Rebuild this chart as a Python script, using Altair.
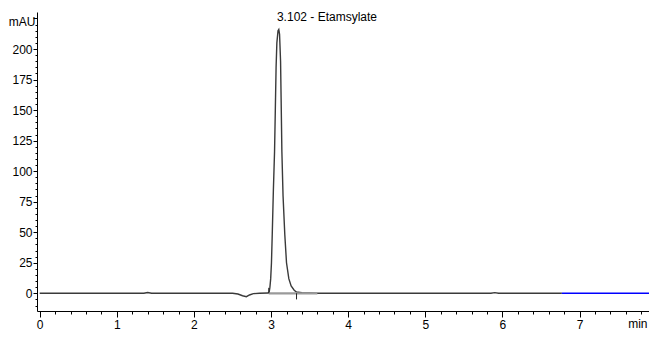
import altair as alt
import pandas as pd

# Chromatogram trace (time in min, signal in mAU)
trace_time = [0.0, 1.35, 1.40, 1.45, 2.50, 2.57, 2.63, 2.68, 2.72, 2.77, 2.85, 2.96,
              2.975, 2.985, 2.995, 3.005, 3.015, 3.03, 3.045, 3.055, 3.065, 3.075,
              3.09, 3.10, 3.11, 3.123, 3.13, 3.14, 3.155, 3.178, 3.20, 3.23, 3.26,
              3.30, 3.33, 3.40, 3.60, 5.85, 5.90, 5.95, 6.77]
trace_value = [0.0, 0.0, 0.6, 0.0, 0.0, -0.6, -2.0, -2.8, -1.4, -0.3, 0.0, 0.2,
               0.8, 5.0, 12.0, 25.0, 48.0, 85.0, 116.0, 150.0, 185.0, 205.0,
               215.0, 216.0, 212.0, 190.0, 160.0, 116.0, 80.0, 48.0, 25.0, 12.0, 6.0,
               2.5, 1.0, 0.4, 0.0, 0.0, 0.5, 0.0, 0.0]

# Blue tail segment (end of run)
tail_time = [6.77, 7.90]
tail_value = [0.0, 0.0]

# Integration baseline (grey) and its start / end markers
base_time = [2.97, 3.60]
base_value = [0.0, 0.0]
marker_time = [2.97, 3.33]
marker_lo = [0.0, -5.0]
marker_hi = [4.5, 0.0]

# Peak annotation
peak_time = [3.102]
peak_value = [216.0]
peak_label = ["3.102 - Etamsylate"]

x_ticks = [round(i * 0.2, 1) for i in range(0, 40)]
y_ticks = list(range(-10, 230, 5))

FONT = "Liberation Sans, Arial"

trace_df = pd.DataFrame({"t": trace_time, "v": trace_value})
tail_df = pd.DataFrame({"t": tail_time, "v": tail_value})
base_df = pd.DataFrame({"t": base_time, "v": base_value})
marker_df = pd.DataFrame({"t": marker_time, "lo": marker_lo, "hi": marker_hi})
peak_df = pd.DataFrame({"t": peak_time, "v": peak_value, "label": peak_label})

x_scale = alt.Scale(domain=[-0.035, 7.90], nice=False, zero=False)
y_scale = alt.Scale(domain=[-14.5, 230.3], nice=False, zero=False)

x_axis = alt.Axis(
    values=x_ticks,
    labelExpr="(abs(datum.value - round(datum.value)) < 0.001) ? format(datum.value, 'd') : ''",
    tickSize={"expr": "(abs(datum.value - round(datum.value)) < 0.001) ? 6 : 3"},
    labelOverlap=False,
    labelBound=False,
    labelFlush=False,
    grid=False,
    domainColor="#000000",
    tickColor="#000000",
    labelColor="#000000",
    labelFont=FONT,
    labelFontSize=12,
    labelPadding=2,
    title="min",
    titleFont=FONT,
    titleFontSize=12,
    titleFontWeight="normal",
    titleColor="#000000",
    titleAnchor="end",
    titleAlign="right",
    titleBaseline="alphabetic",
    titleX=610,
    titleY=16,
)

y_axis = alt.Axis(
    values=y_ticks,
    labelExpr="(datum.value % 25 === 0 && datum.value >= 0 && datum.value <= 200) ? format(datum.value, 'd') : ''",
    tickSize={"expr": "(datum.value % 25 === 0) ? 4 : 2"},
    labelOverlap=False,
    labelBound=False,
    labelFlush=False,
    grid=False,
    domainColor="#000000",
    tickColor="#000000",
    labelColor="#000000",
    labelFont=FONT,
    labelFontSize=12,
    labelPadding=1,
    title="mAU",
    titleFont=FONT,
    titleFontSize=12,
    titleFontWeight="normal",
    titleColor="#000000",
    titleAngle=0,
    titleAlign="right",
    titleBaseline="middle",
    titleX=-2,
    titleY=9,
)

X = lambda f: alt.X(f, type="quantitative", scale=x_scale, axis=x_axis)
Y = lambda f: alt.Y(f, type="quantitative", scale=y_scale, axis=y_axis)

base = alt.Chart(base_df).mark_line(color="#9a9a9a", strokeWidth=2.2).encode(
    x=X("t"), y=Y("v"),
)

trace = alt.Chart(trace_df).mark_line(color="#3a3a3a", strokeWidth=1.4).encode(
    x=X("t"), y=Y("v"), order="t:Q",
)

tail = alt.Chart(tail_df).mark_line(color="#0000ff", strokeWidth=1.4).encode(
    x=X("t"), y=Y("v"),
)

markers = alt.Chart(marker_df).mark_rule(color="#222222", strokeWidth=1).encode(
    x=X("t"), y=Y("lo"), y2="hi:Q",
)

label = alt.Chart(peak_df).mark_text(
    align="left", baseline="bottom", dx=-2, dy=-5,
    font=FONT, fontSize=12, color="#000000",
).encode(
    x=X("t"), y=Y("v"), text="label:N",
)

chart = alt.layer(trace, base, tail, markers, label).properties(
    width=612,
    height=299,
    padding={"left": 29, "top": 4, "right": 0, "bottom": 19},
    autosize=alt.AutoSizeParams(type="none"),
    background="#ffffff",
).configure_view(stroke=None)

chart.save("out.html", embed_options={"renderer": "svg", "actions": False})
